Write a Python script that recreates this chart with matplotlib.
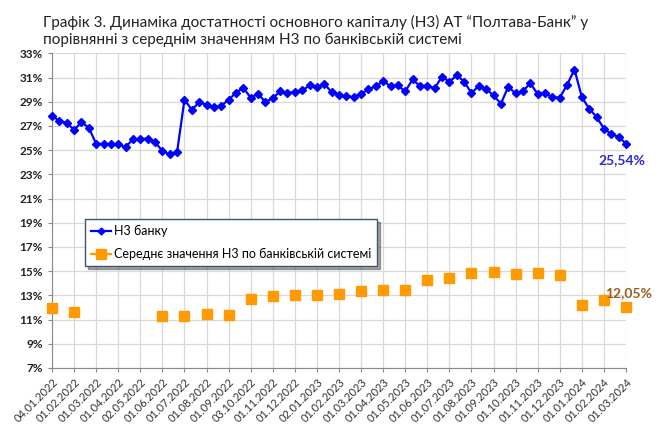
import numpy as np
import matplotlib
matplotlib.use("Agg")
import matplotlib.pyplot as plt

plt.rcParams['font.family'] = ['Lato', 'DejaVu Sans']

# category labels (monthly)
dates = ['04.01.2022', '01.02.2022', '01.03.2022', '01.04.2022', '02.05.2022',
         '01.06.2022', '01.07.2022', '01.08.2022', '01.09.2022', '03.10.2022',
         '01.11.2022', '01.12.2022', '02.01.2023', '01.02.2023', '01.03.2023',
         '01.04.2023', '01.05.2023', '01.06.2023', '01.07.2023', '01.08.2023',
         '01.09.2023', '01.10.2023', '01.11.2023', '01.12.2023', '01.01.2024',
         '01.02.2024', '01.03.2024']

# N3 of the bank, three readings per month
bank_n3 = [27.85, 27.41, 27.25, 26.67, 27.30, 26.86, 25.52, 25.52, 25.47, 25.47,
           25.27, 25.88, 25.93, 25.96, 25.68, 24.92, 24.64, 24.86, 29.16, 28.34,
           28.95, 28.75, 28.53, 28.67, 29.16, 29.74, 30.15, 29.33, 29.66, 28.97,
           29.30, 29.85, 29.74, 29.79, 29.93, 30.34, 30.21, 30.48, 29.79, 29.58,
           29.44, 29.38, 29.66, 30.01, 30.29, 30.70, 30.29, 30.34, 29.85, 30.84,
           30.29, 30.32, 30.12, 31.08, 30.64, 31.19, 30.67, 29.71, 30.32, 30.04,
           29.52, 28.84, 30.23, 29.68, 29.88, 30.53, 29.63, 29.68, 29.38, 29.33,
           30.40, 31.66, 29.38, 28.42, 27.74, 26.78, 26.32, 26.10, 25.54]

# banking system average N3 (monthly, gaps where no data)
system_n3 = [11.95, 11.62, np.nan, np.nan, np.nan, 11.32, 11.32, 11.43, 11.40,
             12.72, 12.97, 13.02, 13.05, 13.11, 13.33, 13.41, 13.41, 14.24,
             14.46, 14.81, 14.90, 14.73, 14.81, 14.65, 12.20, 12.58, 12.05]

blue = '#0000ff'
orange = '#ff9a00'

fig = plt.figure(figsize=(6.68, 4.26), dpi=100)
ax = fig.add_axes([52 / 668, 1 - 368 / 426, 574 / 668, 314.7 / 426])

x_bank = np.arange(len(bank_n3)) / 3
x_sys = np.arange(len(system_n3))

ax.plot(x_bank, bank_n3, color=blue, lw=1.6, marker='D', ms=3.8,
        label='Н3 банку', zorder=3, clip_on=False)
ax.plot(x_sys, system_n3, color=orange, lw=0, marker='s', ms=6.5,
        label='Середнє значення Н3 по банківській системі', zorder=3, clip_on=False)

ax.set_xlim(0, len(dates) - 1)
ax.set_ylim(7, 33)
ax.set_yticks(np.arange(7, 34, 2))
ax.set_yticklabels([f'{v}%' for v in range(7, 34, 2)], fontsize=8.5,
                   fontweight='bold', color='#222222')
ax.set_xticks(x_sys)
ax.set_xticklabels(dates, rotation=45, ha='right', va='top',
                   rotation_mode='anchor', fontsize=8, color='#333333')
ax.tick_params(axis='both', length=3, color='#888888')
ax.tick_params(axis='x', pad=3)

ax.grid(True, color='#d9d9d9', lw=0.9)
ax.set_axisbelow(True)
for s in ['top', 'right']:
    ax.spines[s].set_visible(False)
for s in ['left', 'bottom']:
    ax.spines[s].set_color('#888888')

ax.annotate('25,54%', (x_bank[-1], bank_n3[-1]), xytext=(-3, -12),
            textcoords='offset points', ha='center', va='center',
            fontsize=10, fontweight='bold', color='#2a2ad0')
ax.annotate('12,05%', (x_sys[-1], system_n3[-1]), xytext=(2, 10),
            textcoords='offset points', ha='center', va='center',
            fontsize=10, fontweight='bold', color='#9c5a1e')

leg_handles = [
    plt.Line2D([], [], color=blue, lw=1.6, marker='D', ms=3.5),
    plt.Line2D([], [], color=orange, lw=1.6, marker='s', ms=7),
]
leg = ax.legend(leg_handles, ['Н3 банку', 'Середнє значення Н3 по банківській системі'],
                loc='upper left', bbox_to_anchor=(0.0575, 0.4735), borderaxespad=0,
                fontsize=9, fancybox=False, shadow=True, handlelength=1.6,
                handletextpad=0.2, labelspacing=0.85, borderpad=0.5)
leg.get_frame().set_edgecolor('#3b5575')
leg.get_frame().set_linewidth(1.0)

fig.text(43 / 668, 1 - 22 / 426,
         'Графік 3. Динаміка достатності основного капіталу (Н3) АТ “Полтава-Банк” у',
         fontsize=11, color='#222222', va='center', ha='left')
fig.text(43 / 668, 1 - 40 / 426,
         'порівнянні з середнім значенням Н3 по банківській системі',
         fontsize=11, color='#222222', va='center', ha='left')

fig.savefig('out.png', dpi=100)
